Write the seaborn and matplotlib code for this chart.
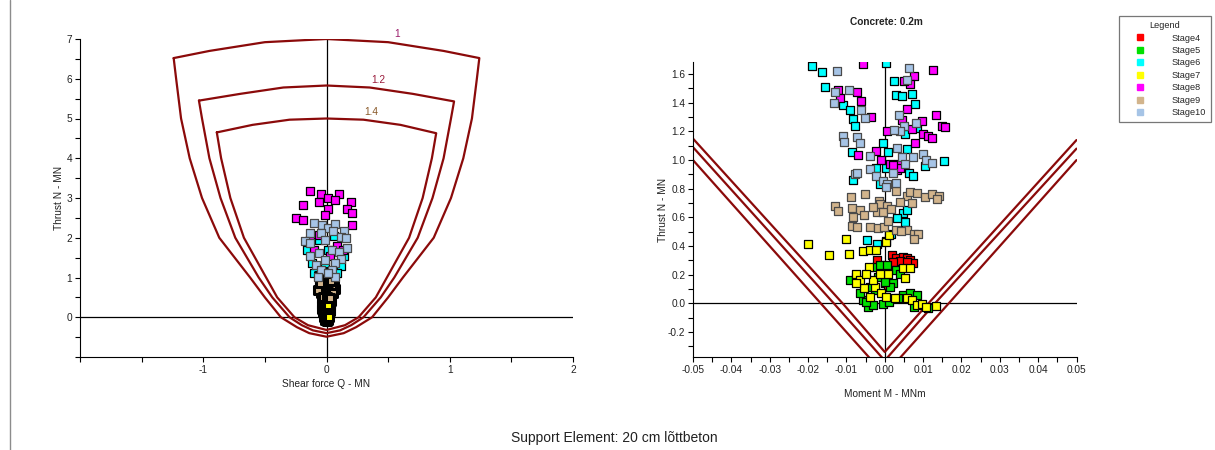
import numpy as np
import pandas as pd
import matplotlib
matplotlib.use("Agg")
import matplotlib.pyplot as plt
from matplotlib.lines import Line2D
from matplotlib.ticker import MultipleLocator, FixedLocator, FixedFormatter
import seaborn as sns

sns.set_theme(style="white")
plt.rcParams['font.family'] = ['Liberation Sans', 'DejaVu Sans']
plt.rcParams['axes.unicode_minus'] = False

# ---------------------------------------------------------------- stages
STAGES = ["Stage4", "Stage5", "Stage6", "Stage7", "Stage8", "Stage9", "Stage10"]
STAGE_COLORS = ["#FF0000", "#00E000", "#00FFFF", "#FFFF00", "#FF00FF", "#D2B48C", "#A6C4E6"]
STAGE_EDGES = ["#000000", "#000000", "#000000", "#000000", "#000000", "#4A4A4A", "#4A4A4A"]

# ---------------------------------------------------------------- capacity envelopes, shear force Q vs thrust N
FACTORS = ["1", "1.2", "1.4"]
FACTOR_LABEL_COLORS = ["#9A1A6A", "#9A1A3A", "#8A5A2A"]
FACTOR_LABEL_QN = [(0.57, 7.12), (0.42, 5.98), (0.36, 5.16)]

Q_ENV_1 = [-1.24, -0.95, -0.50, 0.0, 0.50, 0.95, 1.24, 1.22, 1.18, 1.11, 1.01, 0.87, 0.62, 0.50,
           0.37, 0.24, 0.14, 0.0, -0.14, -0.24, -0.37, -0.50, -0.62, -0.87, -1.01, -1.11, -1.18, -1.22, -1.24]
N_ENV_1 = [6.52, 6.70, 6.92, 7.00, 6.92, 6.70, 6.52, 6.00, 5.00, 4.00, 3.00, 2.00, 1.00, 0.50,
           0.00, -0.25, -0.40, -0.49, -0.40, -0.25, 0.00, 0.50, 1.00, 2.00, 3.00, 4.00, 5.00, 6.00, 6.52]

Q_ENV_12 = [-1.035, -0.70, -0.35, 0.0, 0.35, 0.70, 1.035, 1.01, 0.95, 0.86, 0.74, 0.55, 0.44,
            0.30, 0.20, 0.11, 0.0, -0.11, -0.20, -0.30, -0.44, -0.55, -0.74, -0.86, -0.95, -1.01, -1.035]
N_ENV_12 = [5.45, 5.62, 5.78, 5.83, 5.78, 5.62, 5.43, 5.00, 4.00, 3.00, 2.00, 1.00, 0.50,
            0.00, -0.20, -0.33, -0.40, -0.33, -0.20, 0.00, 0.50, 1.00, 2.00, 3.00, 4.00, 5.00, 5.45]

Q_ENV_14 = [-0.89, -0.60, -0.30, 0.0, 0.30, 0.60, 0.89, 0.855, 0.78, 0.67, 0.49, 0.40,
            0.26, 0.15, 0.0, -0.15, -0.26, -0.40, -0.49, -0.67, -0.78, -0.855, -0.89]
N_ENV_14 = [4.65, 4.84, 4.97, 5.00, 4.97, 4.84, 4.63, 4.00, 3.00, 2.00, 1.00, 0.50,
            0.00, -0.20, -0.32, -0.20, 0.00, 0.50, 1.00, 2.00, 3.00, 4.00, 4.65]

# ---------------------------------------------------------------- capacity envelopes, moment M vs thrust N
M_ENV_1 = [-0.05, -0.0167, 0.0, 0.0167, 0.05]
N_MENV_1 = [1.00, 0.00, -0.50, 0.00, 1.00]
M_ENV_12 = [-0.05, -0.0133, 0.0, 0.0131, 0.05]
N_MENV_12 = [1.09, 0.00, -0.40, 0.00, 1.08]
M_ENV_14 = [-0.05, -0.0110, 0.0, 0.0114, 0.05]
N_MENV_14 = [1.15, 0.00, -0.34, 0.00, 1.14]

# ---------------------------------------------------------------- lining forces, shear force Q vs thrust N
Q_S4 = [-0.02, 0.0, 0.02, -0.01, 0.01, 0.03, -0.03, 0.0, 0.02, -0.015, 0.01, -0.005,
        -0.025, 0.015, -0.005, 0.025]
N_S4 = [0.55, 0.58, 0.52, 0.48, 0.45, 0.50, 0.40, 0.38, 0.42, 0.35, 0.30, 0.62,
        0.60, 0.66, 0.44, 0.36]
Q_S5 = [-0.04, -0.02, 0.0, 0.02, 0.03, -0.03, -0.01, 0.01, -0.02, 0.0, 0.015, -0.01, 0.005, -0.025, 0.02,
        -0.035, -0.015, 0.005, 0.025, -0.005, 0.01, -0.02]
N_S5 = [0.30, 0.25, 0.28, 0.22, 0.15, 0.12, 0.10, 0.05, 0.0, -0.05, -0.02, -0.08, -0.10, 0.18, 0.08,
        0.22, 0.20, 0.16, 0.30, 0.02, -0.06, 0.06]
Q_S7 = [-0.04, -0.02, 0.0, 0.02, 0.04, -0.03, -0.01, 0.01, 0.03, -0.035, -0.015, 0.005, 0.025,
        -0.03, -0.01, 0.01, 0.03, -0.02, 0.0, 0.02, -0.045, 0.045, -0.025, 0.035, -0.005, 0.015]
N_S7 = [0.85, 0.80, 0.88, 0.75, 0.70, 0.62, 0.58, 0.55, 0.50, 0.45, 0.42, 0.38, 0.35,
        0.28, 0.25, 0.20, 0.18, 0.10, 0.05, 0.0, 0.72, 0.60, 0.52, 0.42, 0.68, 0.30]
Q_S9 = [-0.06, -0.04, -0.02, 0.0, 0.02, 0.04, 0.06, -0.05, -0.03, -0.01, 0.01, 0.03, 0.05, 0.065,
        -0.055, -0.035, -0.015, 0.005, 0.025, 0.045, -0.045, -0.025, -0.005, 0.015, 0.035,
        -0.065, 0.055, -0.03, 0.0, 0.03, -0.05, 0.04, -0.01, 0.02]
N_S9 = [1.05, 1.08, 1.02, 1.10, 1.06, 1.00, 0.95, 0.92, 0.96, 0.90, 0.94, 0.88, 0.85, 0.70,
        0.78, 0.82, 0.75, 0.80, 0.72, 0.76, 0.62, 0.66, 0.60, 0.64, 0.58,
        0.68, 0.62, 0.50, 0.52, 0.48, 0.85, 0.92, 1.14, 1.12]
Q_S6 = [-0.16, -0.10, -0.058, 0.058, 0.145, 0.116, -0.116, -0.014, 0.014, -0.10, 0.087, 0.058]
N_S6 = [1.70, 1.99, 1.95, 2.05, 1.54, 1.29, 1.36, 1.28, 1.70, 1.11, 1.11, 0.90]
Q_S10 = [-0.10, -0.04, 0.01, 0.072, 0.052, 0.145, -0.13, -0.043, -0.174, -0.13, -0.014, 0.116, 0.16,
         0.165, 0.043, -0.13, -0.058, 0.10, 0.116, -0.087, -0.014, 0.072, -0.043, 0.043, -0.072, 0.072, 0.014]
N_S10 = [2.38, 2.33, 2.24, 2.35, 2.18, 2.18, 2.12, 2.12, 1.91, 1.88, 1.95, 2.03, 1.99,
         1.75, 1.70, 1.53, 1.61, 1.63, 1.46, 1.32, 1.44, 1.36, 1.19, 1.19, 1.02, 1.02, 1.11]
Q_S8 = [-0.136, -0.043, 0.009, 0.10, 0.067, -0.064, -0.19, 0.197, 0.009, 0.168, 0.21, -0.014,
        -0.246, -0.19, 0.21, -0.06, -0.10, 0.087, 0.03, 0.13, -0.13]
N_S8 = [3.18, 3.11, 3.00, 3.10, 2.96, 2.90, 2.83, 2.91, 2.72, 2.72, 2.62, 2.58,
        2.49, 2.45, 2.33, 2.07, 1.70, 1.78, 1.53, 1.70, 1.95]

# ---------------------------------------------------------------- lining forces, moment M vs thrust N
M_S4 = [-0.002, 0.0019, 0.0029, 0.0048, 0.0057, 0.0067, 0.0074, 0.0039, 0.0022, 0.0057, 0.0, 0.0009]
N_M4 = [0.305, 0.335, 0.319, 0.324, 0.319, 0.305, 0.282, 0.296, 0.289, 0.289, 0.139, 0.116]
M_S5 = [-0.009, -0.0074, -0.0058, -0.0044, -0.003, -0.0004, -0.0022, -0.0013, 0.0006, 0.003, 0.0039,
        0.0022, 0.0048, 0.0035, 0.0065, 0.0083, 0.0077, 0.0113, 0.0013, -0.0026, -0.0039, -0.0065,
        -0.0017, 0.0, -0.0048, 0.0010]
N_M5 = [0.166, 0.185, 0.023, -0.023, -0.012, -0.005, 0.254, 0.266, 0.266, 0.236, 0.208,
        0.139, 0.058, 0.035, 0.069, 0.058, -0.028, -0.035, 0.116, 0.092, 0.116, 0.069,
        0.185, 0.150, 0.010, 0.010]
M_S6 = [-0.0189, -0.0164, -0.0156, -0.011, -0.0091, -0.0084, -0.0078, -0.0085, 0.0004, 0.0024, 0.0029,
        0.0046, 0.0072, 0.0079, 0.0085, 0.0053, -0.0004, 0.0009, 0.0058, -0.0024, 0.0002, 0.0062,
        0.0074, 0.0104, 0.0154, -0.0083, -0.0013, 0.0048, 0.0052, 0.0033, 0.0058, 0.0015, -0.0045,
        -0.002, 0.0004]
N_M6 = [1.658, 1.612, 1.512, 1.383, 1.353, 1.290, 1.235, 1.057, 1.676, 1.549, 1.457,
        1.445, 1.461, 1.394, 1.221, 1.181, 1.117, 1.057, 1.080, 0.948, 0.948, 0.909,
        0.886, 0.960, 0.992, 0.862, 0.832, 0.629, 0.571, 0.597, 0.654, 0.481, 0.444,
        0.416, 0.435]
M_S7 = [-0.020, -0.0145, -0.0093, -0.0102, -0.0057, -0.0039, -0.0022, 0.0004, 0.0011, -0.0074,
        -0.0065, -0.0041, -0.0026, -0.0011, 0.0009, 0.0048, 0.0065, 0.0053, 0.0057, 0.0070,
        0.0083, 0.0096, 0.0107, 0.0133, 0.0026, 0.0004, -0.0039, -0.0055, -0.0074, -0.0030,
        -0.0013, -0.0048]
N_M7 = [0.412, 0.335, 0.342, 0.451, 0.365, 0.375, 0.375, 0.428, 0.474, 0.208,
        0.162, 0.254, 0.116, 0.074, 0.208, 0.243, 0.243, 0.178, 0.035, 0.023,
        -0.012, -0.005, -0.023, -0.018, 0.035, 0.046, 0.046, 0.104, 0.139, 0.162,
        0.208, 0.208]
M_S8 = [-0.0057, 0.0126, 0.0077, 0.0065, 0.0050, -0.0121, -0.0117, -0.0072, -0.0061, 0.0057,
        0.0046, -0.0035, 0.0133, 0.0096, 0.0148, 0.0157, 0.0072, 0.0006, 0.0099, 0.0113,
        0.0124, 0.0079, -0.0024, -0.0069, -0.0011, 0.0013, 0.0035, 0.0032, 0.0039, 0.0022]
N_M8 = [1.672, 1.628, 1.584, 1.531, 1.554, 1.489, 1.431, 1.473, 1.410, 1.360,
        1.281, 1.299, 1.313, 1.272, 1.237, 1.230, 1.214, 1.202, 1.179, 1.168,
        1.156, 1.117, 1.064, 1.036, 0.999, 0.976, 0.976, 0.934, 0.948, 0.966]
M_S9 = [-0.0089, -0.0051, -0.0085, -0.0065, -0.0130, -0.0122, -0.0016, -0.0013, -0.0020, 0.0006,
        0.0030, 0.0057, 0.0067, 0.0084, 0.0106, 0.0122, 0.0142, 0.0137, 0.0070, -0.0084,
        -0.0055, -0.0004, -0.0039, -0.0017, -0.0003, -0.0086, -0.0072, 0.0030, 0.0057, 0.0076,
        0.0087, 0.0077, 0.0042, 0.0009, -0.0030, 0.0039, 0.0015]
N_M9 = [0.745, 0.763, 0.664, 0.654, 0.682, 0.647, 0.717, 0.694, 0.636, 0.682,
        0.786, 0.751, 0.775, 0.768, 0.745, 0.763, 0.747, 0.728, 0.699, 0.601,
        0.620, 0.636, 0.532, 0.527, 0.532, 0.543, 0.532, 0.509, 0.509, 0.486,
        0.486, 0.446, 0.504, 0.578, 0.670, 0.705, 0.659]
M_S10 = [-0.0125, -0.0093, -0.0129, -0.0132, -0.0061, -0.0052, -0.0109, -0.0107, -0.0072, -0.0065,
         0.0062, 0.0058, 0.0036, 0.0049, 0.0039, 0.0023, 0.0082, 0.0032, 0.0044, 0.0074,
         0.0100, 0.0107, 0.0123, 0.0054, -0.0039, -0.0039, -0.0078, -0.0072, -0.0022, -0.0004,
         0.0006, 0.0029, 0.0004, 0.0022]
N_M10 = [1.623, 1.491, 1.475, 1.399, 1.353, 1.295, 1.168, 1.128, 1.161, 1.117,
         1.646, 1.561, 1.313, 1.237, 1.202, 1.212, 1.260, 1.082, 1.022, 1.022,
         1.040, 0.999, 0.983, 0.971, 1.029, 0.936, 0.902, 0.911, 0.890, 0.855,
         0.832, 0.837, 0.810, 0.913]

# ---------------------------------------------------------------- tables
qn = pd.concat([
    pd.DataFrame({"Q": Q_S4, "N": N_S4, "Stage": "Stage4"}),
    pd.DataFrame({"Q": Q_S5, "N": N_S5, "Stage": "Stage5"}),
    pd.DataFrame({"Q": Q_S6, "N": N_S6, "Stage": "Stage6"}),
    pd.DataFrame({"Q": Q_S7, "N": N_S7, "Stage": "Stage7"}),
    pd.DataFrame({"Q": Q_S8, "N": N_S8, "Stage": "Stage8"}),
    pd.DataFrame({"Q": Q_S9, "N": N_S9, "Stage": "Stage9"}),
    pd.DataFrame({"Q": Q_S10, "N": N_S10, "Stage": "Stage10"}),
], ignore_index=True)
mn = pd.concat([
    pd.DataFrame({"M": M_S4, "N": N_M4, "Stage": "Stage4"}),
    pd.DataFrame({"M": M_S5, "N": N_M5, "Stage": "Stage5"}),
    pd.DataFrame({"M": M_S6, "N": N_M6, "Stage": "Stage6"}),
    pd.DataFrame({"M": M_S7, "N": N_M7, "Stage": "Stage7"}),
    pd.DataFrame({"M": M_S8, "N": N_M8, "Stage": "Stage8"}),
    pd.DataFrame({"M": M_S9, "N": N_M9, "Stage": "Stage9"}),
    pd.DataFrame({"M": M_S10, "N": N_M10, "Stage": "Stage10"}),
], ignore_index=True)

# ---------------------------------------------------------------- figure
W, H = 1215, 450
fig = plt.figure(figsize=(W / 100, H / 100), dpi=100)
fig.patch.set_facecolor("white")
ax1 = fig.add_axes([80 / W, 93 / H, 493 / W, 318 / H])
ax2 = fig.add_axes([693 / W, 93 / H, 383.5 / W, 295 / H])

ENV_COLOR = "#8B0A0A"
TXT = 7.3
MARKER_S = 28

for ax in (ax1, ax2):
    ax.set_facecolor("white")
    for side in ("top", "right"):
        ax.spines[side].set_visible(False)
    for side in ("left", "bottom"):
        ax.spines[side].set_color("black")
        ax.spines[side].set_linewidth(0.8)
    ax.axhline(0, color="black", lw=0.9, zorder=1)
    ax.axvline(0, color="black", lw=0.9, zorder=1)
    ax.tick_params(which="both", direction="out", length=3.5, width=0.8, color="black",
                   labelsize=TXT, labelcolor="#222222", left=True, bottom=True, pad=2)
    ax.grid(False)

# --- Q-N diagram
for q, n in ((Q_ENV_1, N_ENV_1), (Q_ENV_12, N_ENV_12), (Q_ENV_14, N_ENV_14)):
    ax1.plot(q, n, color=ENV_COLOR, lw=1.6, zorder=2, solid_joinstyle="round")
for lab, col, (x, y) in zip(FACTORS, FACTOR_LABEL_COLORS, FACTOR_LABEL_QN):
    ax1.text(x, y, lab, color=col, fontsize=TXT, ha="center", va="center")

dense = ["Stage4", "Stage5", "Stage7", "Stage9"]
for st, col, ec in zip(STAGES, STAGE_COLORS, STAGE_EDGES):
    sub = qn[qn["Stage"] == st]
    sns.scatterplot(data=sub, x="Q", y="N", ax=ax1, marker="s", s=MARKER_S, color=col,
                    edgecolor="black" if st in dense else ec,
                    linewidth=2.2 if st in dense else 0.9, zorder=3, legend=False)

ax1.set_xlim(-2, 2)
ax1.set_ylim(-1, 7)
ax1.xaxis.set_major_locator(FixedLocator([-1, 0, 1, 2]))
ax1.xaxis.set_minor_locator(MultipleLocator(0.5))
ax1.yaxis.set_major_locator(FixedLocator([0, 1, 2, 3, 4, 5, 6, 7]))
ax1.yaxis.set_minor_locator(MultipleLocator(0.5))
ax1.set_xlabel("Shear force Q - MN", fontsize=TXT, color="#222222", labelpad=3)
ax1.set_ylabel("Thrust N - MN", fontsize=TXT, color="#222222", labelpad=2)

# --- M-N diagram
for m, n in ((M_ENV_1, N_MENV_1), (M_ENV_12, N_MENV_12), (M_ENV_14, N_MENV_14)):
    ax2.plot(m, n, color=ENV_COLOR, lw=1.6, zorder=2)

for st, col, ec in zip(STAGES, STAGE_COLORS, STAGE_EDGES):
    sub = mn[mn["Stage"] == st]
    sns.scatterplot(data=sub, x="M", y="N", ax=ax2, marker="s", s=MARKER_S, color=col,
                    edgecolor=ec, linewidth=0.9, zorder=3, legend=False)

ax2.set_xlim(-0.05, 0.05)
ax2.set_ylim(-0.375, 1.685)
M_TICKS = [-0.05, -0.04, -0.03, -0.02, -0.01, 0.0, 0.01, 0.02, 0.03, 0.04, 0.05]
ax2.xaxis.set_major_locator(FixedLocator(M_TICKS))
ax2.xaxis.set_major_formatter(FixedFormatter([f"{v:.2f}" for v in M_TICKS]))
ax2.xaxis.set_minor_locator(MultipleLocator(0.005))
N_TICKS = [-0.2, 0.0, 0.2, 0.4, 0.6, 0.8, 1.0, 1.2, 1.4, 1.6]
ax2.yaxis.set_major_locator(FixedLocator(N_TICKS))
ax2.yaxis.set_major_formatter(FixedFormatter([f"{v:.1f}" for v in N_TICKS]))
ax2.yaxis.set_minor_locator(MultipleLocator(0.1))
ax2.set_xlabel("Moment M - MNm", fontsize=TXT, color="#222222", labelpad=10)
ax2.set_ylabel("Thrust N - MN", fontsize=TXT, color="#222222", labelpad=0)

fig.text(886 / W, 1 - 22 / H, "Concrete: 0.2m", fontsize=TXT, fontweight="bold",
         ha="center", va="center", color="#222222")

# --- legend
handles = [Line2D([], [], ls="none", marker="s", markersize=4.4, markerfacecolor=c,
                  markeredgecolor=c) for c in STAGE_COLORS]
leg = fig.legend(handles, STAGES, loc="upper left", bbox_to_anchor=(1119 / W, 1 - 16 / H),
                 bbox_transform=fig.transFigure, borderaxespad=0, title="Legend",
                 fontsize=6.6, title_fontsize=6.6, frameon=True, fancybox=False,
                 edgecolor="#555555", handlelength=3.4, handletextpad=1.8,
                 borderpad=0.55, labelspacing=0.38)
leg.get_frame().set_linewidth(0.9)

# --- footer and page rule
fig.text(614 / W, 1 - 438 / H, "Support Element: 20 cm lõttbeton", fontsize=10,
         ha="center", va="center", color="#222222")
fig.add_artist(Line2D([10 / W, 10 / W], [0, 1], transform=fig.transFigure,
                      color="#8C8C8C", lw=1.0))

fig.savefig("out.png", dpi=100, facecolor="white")
